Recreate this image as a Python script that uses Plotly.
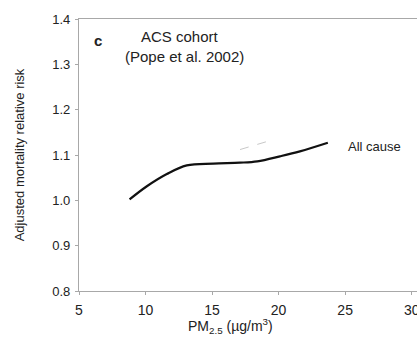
import plotly.graph_objects as go

# Data
pm25 = [8.8, 10.1, 11.6, 13.1, 15.1, 17.1, 18.4, 20.1, 21.6, 23.7]
rr_all_cause = [1.002, 1.031, 1.058, 1.077, 1.081, 1.083, 1.086, 1.097, 1.108, 1.127]
ci_pm25 = [17.1, 19.5]
ci_upper = [1.112, 1.133]

x_ticks = [5, 10, 15, 20, 25, 30]
y_ticks = [0.8, 0.9, 1.0, 1.1, 1.2, 1.3, 1.4]

font_family = "Liberation Sans, Arial, sans-serif"

fig = go.Figure()
fig.add_trace(go.Scatter(x=ci_pm25, y=ci_upper, mode="lines",
                         line=dict(color="#c8c8c8", width=1, dash="dash"),
                         showlegend=False, hoverinfo="skip"))
fig.add_trace(go.Scatter(x=pm25, y=rr_all_cause, mode="lines",
                         line=dict(color="#111111", width=2.2, shape="spline"),
                         showlegend=False))

fig.update_layout(
    width=432, height=347,
    margin=dict(l=79, r=15, t=14, b=56),
    paper_bgcolor="white", plot_bgcolor="white",
    font=dict(family=font_family, size=13, color="#222222"),
    xaxis=dict(range=[5, 30.4], tickvals=x_ticks, ticktext=[str(v) for v in x_ticks],
               showgrid=False, zeroline=False, showline=True, linecolor="#a8a8a8",
               linewidth=1.3, mirror=True, ticks="outside", ticklen=3,
               tickcolor="#a8a8a8", tickfont=dict(size=14), ticklabelstandoff=3),
    yaxis=dict(range=[0.8, 1.4], tickvals=y_ticks, ticktext=[f"{v:.1f}" for v in y_ticks],
               showgrid=False, zeroline=False, showline=True, linecolor="#a8a8a8",
               linewidth=1.3, ticks="outside", ticklen=3, tickcolor="#a8a8a8",
               tickfont=dict(size=13), ticklabelstandoff=2,
               title=dict(text="Adjusted mortality relative risk", font=dict(size=13), standoff=24)),
)

fig.add_annotation(x=0.447 * 338 / 338, y=-0.13, xref="paper", yref="paper", xanchor="center",
                   yanchor="middle", text="PM<sub>2.5</sub> (µg/m<sup>3</sup>)", showarrow=False,
                   font=dict(size=14))
fig.add_annotation(x=6.43, y=1.352, xref="x", yref="y", text="<b>c</b>", showarrow=False,
                   font=dict(size=15))
fig.add_annotation(x=12.6, y=1.362, xref="x", yref="y", text="ACS cohort", showarrow=False,
                   font=dict(size=15))
fig.add_annotation(x=12.96, y=1.318, xref="x", yref="y", text="(Pope et al. 2002)", showarrow=False,
                   font=dict(size=15))
fig.add_annotation(x=25.05, y=1.118, xref="x", yref="y", text="All cause", showarrow=False,
                   xanchor="left", font=dict(size=13))

fig.write_html("out.html", config={"displayModeBar": False},
               post_script="document.body.style.margin='0';document.body.style.overflow='hidden';")
